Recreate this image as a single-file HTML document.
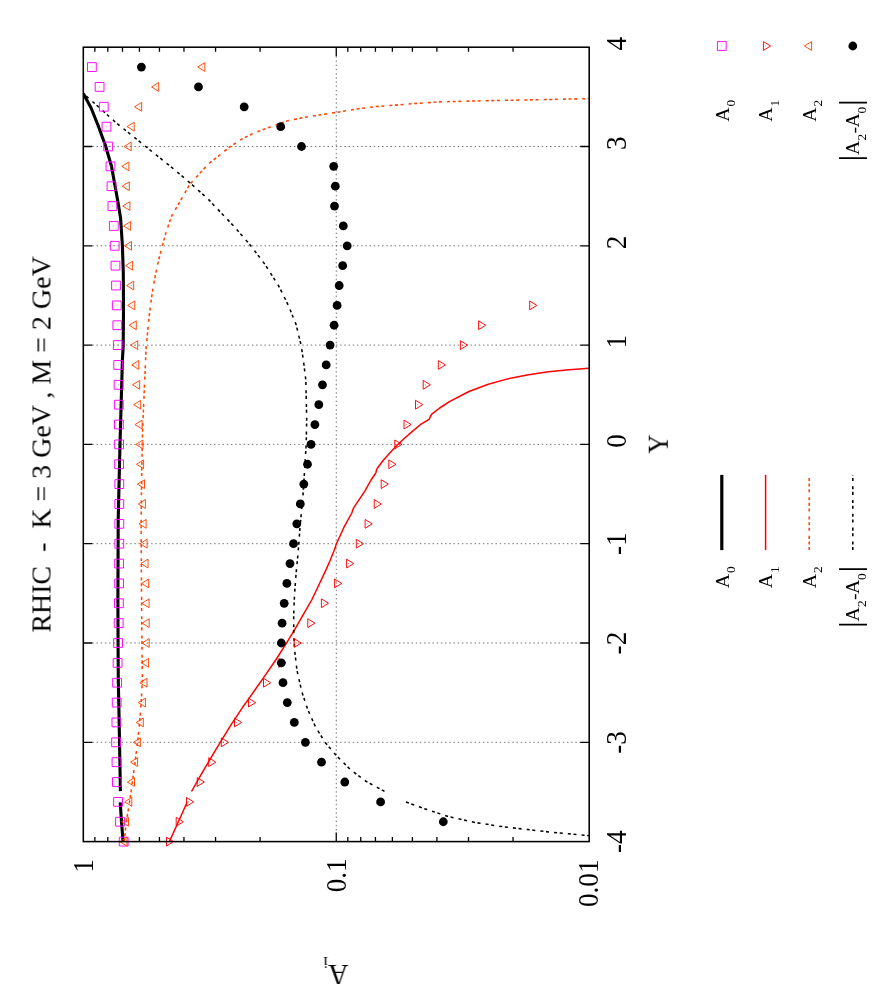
<!DOCTYPE html>
<html><head><meta charset="utf-8"><title>RHIC - K = 3 GeV , M = 2 GeV</title>
<style>html,body{margin:0;padding:0;background:#fff}svg{display:block}text{font-family:'Liberation Serif', serif;fill:#000}</style></head><body>
<svg width="875" height="1000" viewBox="0 0 875 1000">
<rect width="875" height="1000" fill="#fff"/>
<path d="M92.3 742.3 H580.2 M92.3 643 H580.2 M92.3 543.7 H580.2 M92.3 444.4 H580.2 M92.3 345.1 H580.2 M92.3 245.8 H580.2 M92.3 146.5 H580.2 M336.25 56.2 V832.6" stroke="#000" stroke-opacity="0.6" stroke-width="0.9" stroke-dasharray="1.5 2.7" fill="none"/>
<path d="M83.3 742.3 h9 M589.2 742.3 h-9 M83.3 643 h9 M589.2 643 h-9 M83.3 543.7 h9 M589.2 543.7 h-9 M83.3 444.4 h9 M589.2 444.4 h-9 M83.3 345.1 h9 M589.2 345.1 h-9 M83.3 245.8 h9 M589.2 245.8 h-9 M83.3 146.5 h9 M589.2 146.5 h-9 M336.25 47.2 v9 M336.25 841.6 v-9 M260.1 47.2 v4.5 M260.1 841.6 v-4.5 M215.56 47.2 v4.5 M215.56 841.6 v-4.5 M183.96 47.2 v4.5 M183.96 841.6 v-4.5 M159.45 47.2 v4.5 M159.45 841.6 v-4.5 M139.42 47.2 v4.5 M139.42 841.6 v-4.5 M122.48 47.2 v4.5 M122.48 841.6 v-4.5 M107.81 47.2 v4.5 M107.81 841.6 v-4.5 M94.87 47.2 v4.5 M94.87 841.6 v-4.5 M513.05 47.2 v4.5 M513.05 841.6 v-4.5 M468.51 47.2 v4.5 M468.51 841.6 v-4.5 M436.91 47.2 v4.5 M436.91 841.6 v-4.5 M412.4 47.2 v4.5 M412.4 841.6 v-4.5 M392.37 47.2 v4.5 M392.37 841.6 v-4.5 M375.43 47.2 v4.5 M375.43 841.6 v-4.5 M360.76 47.2 v4.5 M360.76 841.6 v-4.5 M347.82 47.2 v4.5 M347.82 841.6 v-4.5" stroke="#000" stroke-width="1.3" fill="none"/>
<clipPath id="pc"><rect x="83.3" y="47.2" width="505.9" height="794.4"/></clipPath>
<g fill="none" stroke-linejoin="round" clip-path="url(#pc)">
<path d="M123.1 841.6 L121.5 821.7 L120.2 802.4 M120.4 791.1 L119.8 757.7 L119.1 718.9 L118.3 680 L118.1 650 L117.9 600 L118.2 520 L120 444 L122.4 360 L123.2 346.3 L123.5 309.7 L123.3 273.1 L122.4 245.7 L120.6 218.3 L117.6 200 L115.1 186.3 L111.5 166.2 L105.6 146 L98.3 126 L91 107.7 L83.3 93.6" stroke="#000" stroke-width="3.1"/>
<path d="M169.4 841.6 L178.4 821.7 L187.2 802 M191.5 791.5 L201.2 774.4 L212.1 755.8 L220.4 742.1 L231.3 724.3 L242.3 707.8 L248.3 699.4 L256.3 688 L264.3 676.6 L275.7 660 L284.9 645.7 L294 630.9 L303.1 614.9 L311.7 600 L319.8 583 L326.2 569.4 L330 560.8 L334.4 549.8 L335.4 547 L336.3 544 L344 527.2 L351.8 513 L352.8 510 L353.8 507.6 L365 490.8 L371 480 L375.1 474 L376 472.3 L376.7 469.5 L377.3 468.2 L382.9 460.8 L389.3 453.5 L396.6 445.7 L403.9 438.8 L411.2 432.4 L420.3 424.7 L428.6 419.7 L429.6 418.6 L430.6 416 L431.8 414.2 L439.7 408 L449.4 401.6 L468.9 391.5 L488.3 384.3 L507.7 378.9 L527.1 375 L546.6 372.1 L566 370.1 L589 368.2" stroke="#ff0000" stroke-width="1.5"/>
<path d="M124.3 841.6 L126.2 821.8 L128.6 808.2 L131.5 788.8 L134.4 767.4 L137.3 744.1 L139.6 722.7 L141.2 701.4 L142.4 680 L141.8 629.7 L141.4 574.9 L141.1 520 L141.3 506.3 L141.8 469.7 L142.5 433.1 L144 396.6 L145.5 361.8 L146.2 346.3 L147.7 331.7 L149.5 313.4 L152.2 293.2 L155 276.8 L158.6 260.3 L162.3 245.7 L165.9 232.9 L171.4 216.5 L178.7 203.7 L181.4 199 L189.7 184.5 L208 164.3 L230 146.9 L241.7 139.1 L253.3 133.3 L268.9 127.4 L288.3 120.6 L307.7 116.7 L335.9 112.5 L356.3 109 L375.7 106.6 L390 105.5 L414 103.6 L438 101.9 L486 100.7 L534 99.8 L589 98.6" stroke="#ff4500" stroke-dasharray="3.05 2.55 3.05 2.55 3.05 5.05" stroke-width="1.55"/>
<path d="M406 802 L422.6 808.1 L448.9 816.7 L475.1 822.5 L501.4 826.5 L527.7 829.6 L554 832.5 L589 835.7 M384.5 791.4 L366 781.3 L350.5 769.7 L335.9 755.1 L325.2 742.5 L315.5 726.9 L307.7 709.4 L301.9 692 L297 670.5 L294.7 651 L293.7 633.5 L293.7 614.1 L294.5 594.7 L296.1 573.3 L298 553.9 L300.3 523.8 L302.9 496.6 L304.8 467.4 L306.2 444.1 L306.7 418.9 L305.8 380 L303.8 363.5 L301.3 346 L296.1 324.6 L288.3 305.2 L278.6 285.8 L265 264.4 L249.4 244 L232.3 224.6 L208 199 L189.7 182.6 L171.4 167.1 L153.1 152.5 L134.9 137.8 L116.6 123.2 L98.3 106.7 L83.3 93.6" stroke="#000" stroke-dasharray="3.05 2.6 3.05 5.1" stroke-width="1.55"/>
</g>
<path d="M119.3 837.2 h8.8 v8.8 h-8.8 z M115.6 817.34 h8.8 v8.8 h-8.8 z M113.7 797.48 h8.8 v8.8 h-8.8 z M112.5 777.62 h8.8 v8.8 h-8.8 z M112.1 757.76 h8.8 v8.8 h-8.8 z M111.7 737.9 h8.8 v8.8 h-8.8 z M112 718.04 h8.8 v8.8 h-8.8 z M112.3 698.18 h8.8 v8.8 h-8.8 z M112.7 678.32 h8.8 v8.8 h-8.8 z M113.2 658.46 h8.8 v8.8 h-8.8 z M113.7 638.6 h8.8 v8.8 h-8.8 z M114.3 618.74 h8.8 v8.8 h-8.8 z M114.5 598.88 h8.8 v8.8 h-8.8 z M114.7 579.02 h8.8 v8.8 h-8.8 z M114.7 559.16 h8.8 v8.8 h-8.8 z M114.9 539.3 h8.8 v8.8 h-8.8 z M114.9 519.44 h8.8 v8.8 h-8.8 z M114.9 499.58 h8.8 v8.8 h-8.8 z M114.9 479.72 h8.8 v8.8 h-8.8 z M114.7 459.86 h8.8 v8.8 h-8.8 z M114.7 440 h8.8 v8.8 h-8.8 z M114.5 420.14 h8.8 v8.8 h-8.8 z M114.4 400.28 h8.8 v8.8 h-8.8 z M114.2 380.42 h8.8 v8.8 h-8.8 z M113.8 360.56 h8.8 v8.8 h-8.8 z M113.4 340.7 h8.8 v8.8 h-8.8 z M112.9 320.84 h8.8 v8.8 h-8.8 z M112.4 300.98 h8.8 v8.8 h-8.8 z M111.6 281.12 h8.8 v8.8 h-8.8 z M111.1 261.26 h8.8 v8.8 h-8.8 z M110.3 241.4 h8.8 v8.8 h-8.8 z M109.4 221.54 h8.8 v8.8 h-8.8 z M108 201.68 h8.8 v8.8 h-8.8 z M107.1 181.82 h8.8 v8.8 h-8.8 z M106.1 161.96 h8.8 v8.8 h-8.8 z M103.8 142.1 h8.8 v8.8 h-8.8 z M102.1 122.24 h8.8 v8.8 h-8.8 z M99.4 102.38 h8.8 v8.8 h-8.8 z M95.2 82.52 h8.8 v8.8 h-8.8 z M87.5 62.66 h8.8 v8.8 h-8.8 z M717.4 41.6 h8.8 v8.8 h-8.8 z" fill="none" stroke="#ff00ff" stroke-width="0.95"/>
<path d="M123.7 841.6 h0.01 M120 821.74 h0.01 M118.1 801.88 h0.01 M116.9 782.02 h0.01 M116.5 762.16 h0.01 M116.1 742.3 h0.01 M116.4 722.44 h0.01 M116.7 702.58 h0.01 M117.1 682.72 h0.01 M117.6 662.86 h0.01 M118.1 643 h0.01 M118.7 623.14 h0.01 M118.9 603.28 h0.01 M119.1 583.42 h0.01 M119.1 563.56 h0.01 M119.3 543.7 h0.01 M119.3 523.84 h0.01 M119.3 503.98 h0.01 M119.3 484.12 h0.01 M119.1 464.26 h0.01 M119.1 444.4 h0.01 M118.9 424.54 h0.01 M118.8 404.68 h0.01 M118.6 384.82 h0.01 M118.2 364.96 h0.01 M117.8 345.1 h0.01 M117.3 325.24 h0.01 M116.8 305.38 h0.01 M116 285.52 h0.01 M115.5 265.66 h0.01 M114.7 245.8 h0.01 M113.8 225.94 h0.01 M112.4 206.08 h0.01 M111.5 186.22 h0.01 M110.5 166.36 h0.01 M108.2 146.5 h0.01 M106.5 126.64 h0.01 M103.8 106.78 h0.01 M99.6 86.92 h0.01 M91.9 67.06 h0.01 M721.8 46 h0.01" fill="none" stroke="#ff00ff" stroke-width="0.9" stroke-linecap="round" opacity="0.7"/>
<path d="M173.63 841.6 L166.5 837.2 L166.5 846 z M183.33 821.74 L176.2 817.34 L176.2 826.14 z M193.63 801.88 L186.5 797.48 L186.5 806.28 z M204.33 782.02 L197.2 777.62 L197.2 786.42 z M215.83 762.16 L208.7 757.76 L208.7 766.56 z M228.43 742.3 L221.3 737.9 L221.3 746.7 z M241.63 722.44 L234.5 718.04 L234.5 726.84 z M255.63 702.58 L248.5 698.18 L248.5 706.98 z M270.63 682.72 L263.5 678.32 L263.5 687.12 z M285.93 662.86 L278.8 658.46 L278.8 667.26 z M301.33 643 L294.2 638.6 L294.2 647.4 z M314.93 623.14 L307.8 618.74 L307.8 627.54 z M328.53 603.28 L321.4 598.88 L321.4 607.68 z M341.73 583.42 L334.6 579.02 L334.6 587.82 z M353.73 563.56 L346.6 559.16 L346.6 567.96 z M363.43 543.7 L356.3 539.3 L356.3 548.1 z M372.23 523.84 L365.1 519.44 L365.1 528.24 z M381.33 503.98 L374.2 499.58 L374.2 508.38 z M388.33 484.12 L381.2 479.72 L381.2 488.52 z M395.93 464.26 L388.8 459.86 L388.8 468.66 z M401.93 444.4 L394.8 440 L394.8 448.8 z M411.13 424.54 L404 420.14 L404 428.94 z M422.63 404.68 L415.5 400.28 L415.5 409.08 z M430.33 384.82 L423.2 380.42 L423.2 389.22 z M445.43 364.96 L438.3 360.56 L438.3 369.36 z M467.53 345.1 L460.4 340.7 L460.4 349.5 z M485.73 325.24 L478.6 320.84 L478.6 329.64 z M536.83 305.38 L529.7 300.98 L529.7 309.78 z M770.53 46 L763.4 41.6 L763.4 50.4 z" fill="none" stroke="#ff0000" stroke-width="0.95" stroke-linejoin="miter"/>
<path d="M168.7 841.6 h0.01 M178.4 821.74 h0.01 M188.7 801.88 h0.01 M199.4 782.02 h0.01 M210.9 762.16 h0.01 M223.5 742.3 h0.01 M236.7 722.44 h0.01 M250.7 702.58 h0.01 M265.7 682.72 h0.01 M281 662.86 h0.01 M296.4 643 h0.01 M310 623.14 h0.01 M323.6 603.28 h0.01 M336.8 583.42 h0.01 M348.8 563.56 h0.01 M358.5 543.7 h0.01 M367.3 523.84 h0.01 M376.4 503.98 h0.01 M383.4 484.12 h0.01 M391 464.26 h0.01 M397 444.4 h0.01 M406.2 424.54 h0.01 M417.7 404.68 h0.01 M425.4 384.82 h0.01 M440.5 364.96 h0.01 M462.6 345.1 h0.01 M480.8 325.24 h0.01 M531.9 305.38 h0.01 M765.6 46 h0.01" fill="none" stroke="#ff0000" stroke-width="0.9" stroke-linecap="round" opacity="0.7"/>
<path d="M119.87 841.6 L127 837.2 L127 846 z M121.37 821.74 L128.5 817.34 L128.5 826.14 z M124.67 801.88 L131.8 797.48 L131.8 806.28 z M127.37 782.02 L134.5 777.62 L134.5 786.42 z M130.47 762.16 L137.6 757.76 L137.6 766.56 z M133.27 742.3 L140.4 737.9 L140.4 746.7 z M136.17 722.44 L143.3 718.04 L143.3 726.84 z M138.27 702.58 L145.4 698.18 L145.4 706.98 z M139.87 682.72 L147 678.32 L147 687.12 z M141.47 662.86 L148.6 658.46 L148.6 667.26 z M142.07 643 L149.2 638.6 L149.2 647.4 z M142.07 623.14 L149.2 618.74 L149.2 627.54 z M141.97 603.28 L149.1 598.88 L149.1 607.68 z M141.57 583.42 L148.7 579.02 L148.7 587.82 z M140.87 563.56 L148 559.16 L148 567.96 z M139.97 543.7 L147.1 539.3 L147.1 548.1 z M138.97 523.84 L146.1 519.44 L146.1 528.24 z M138.27 503.98 L145.4 499.58 L145.4 508.38 z M137.37 484.12 L144.5 479.72 L144.5 488.52 z M136.47 464.26 L143.6 459.86 L143.6 468.66 z M135.87 444.4 L143 440 L143 448.8 z M134.97 424.54 L142.1 420.14 L142.1 428.94 z M133.57 404.68 L140.7 400.28 L140.7 409.08 z M132.57 384.82 L139.7 380.42 L139.7 389.22 z M131.67 364.96 L138.8 360.56 L138.8 369.36 z M130.57 345.1 L137.7 340.7 L137.7 349.5 z M129.17 325.24 L136.3 320.84 L136.3 329.64 z M127.67 305.38 L134.8 300.98 L134.8 309.78 z M126.57 285.52 L133.7 281.12 L133.7 289.92 z M125.47 265.66 L132.6 261.26 L132.6 270.06 z M124.37 245.8 L131.5 241.4 L131.5 250.2 z M123.47 225.94 L130.6 221.54 L130.6 230.34 z M122.77 206.08 L129.9 201.68 L129.9 210.48 z M122.17 186.22 L129.3 181.82 L129.3 190.62 z M121.77 166.36 L128.9 161.96 L128.9 170.76 z M124.07 146.5 L131.2 142.1 L131.2 150.9 z M127.07 126.64 L134.2 122.24 L134.2 131.04 z M134.57 106.78 L141.7 102.38 L141.7 111.18 z M151.57 86.92 L158.7 82.52 L158.7 91.32 z M197.67 67.06 L204.8 62.66 L204.8 71.46 z M804.47 46 L811.6 41.6 L811.6 50.4 z" fill="none" stroke="#ff4500" stroke-width="0.95" stroke-linejoin="miter"/>
<path d="M124.8 841.6 h0.01 M126.3 821.74 h0.01 M129.6 801.88 h0.01 M132.3 782.02 h0.01 M135.4 762.16 h0.01 M138.2 742.3 h0.01 M141.1 722.44 h0.01 M143.2 702.58 h0.01 M144.8 682.72 h0.01 M146.4 662.86 h0.01 M147 643 h0.01 M147 623.14 h0.01 M146.9 603.28 h0.01 M146.5 583.42 h0.01 M145.8 563.56 h0.01 M144.9 543.7 h0.01 M143.9 523.84 h0.01 M143.2 503.98 h0.01 M142.3 484.12 h0.01 M141.4 464.26 h0.01 M140.8 444.4 h0.01 M139.9 424.54 h0.01 M138.5 404.68 h0.01 M137.5 384.82 h0.01 M136.6 364.96 h0.01 M135.5 345.1 h0.01 M134.1 325.24 h0.01 M132.6 305.38 h0.01 M131.5 285.52 h0.01 M130.4 265.66 h0.01 M129.3 245.8 h0.01 M128.4 225.94 h0.01 M127.7 206.08 h0.01 M127.1 186.22 h0.01 M126.7 166.36 h0.01 M129 146.5 h0.01 M132 126.64 h0.01 M139.5 106.78 h0.01 M156.5 86.92 h0.01 M202.6 67.06 h0.01 M809.4 46 h0.01" fill="none" stroke="#ff4500" stroke-width="0.9" stroke-linecap="round" opacity="0.7"/>
<circle cx="443.3" cy="821.74" r="4.4"/>
<circle cx="380.6" cy="801.88" r="4.4"/>
<circle cx="344.8" cy="782.02" r="4.4"/>
<circle cx="321.5" cy="762.16" r="4.4"/>
<circle cx="305.4" cy="742.3" r="4.4"/>
<circle cx="294.3" cy="722.44" r="4.4"/>
<circle cx="287.3" cy="702.58" r="4.4"/>
<circle cx="283" cy="682.72" r="4.4"/>
<circle cx="281.3" cy="662.86" r="4.4"/>
<circle cx="281.3" cy="643" r="4.4"/>
<circle cx="282.1" cy="623.14" r="4.4"/>
<circle cx="284.2" cy="603.28" r="4.4"/>
<circle cx="286.9" cy="583.42" r="4.4"/>
<circle cx="290" cy="563.56" r="4.4"/>
<circle cx="293.5" cy="543.7" r="4.4"/>
<circle cx="296.8" cy="523.84" r="4.4"/>
<circle cx="300.3" cy="503.98" r="4.4"/>
<circle cx="303.8" cy="484.12" r="4.4"/>
<circle cx="307.5" cy="464.26" r="4.4"/>
<circle cx="311" cy="444.4" r="4.4"/>
<circle cx="314.9" cy="424.54" r="4.4"/>
<circle cx="318.8" cy="404.68" r="4.4"/>
<circle cx="322.5" cy="384.82" r="4.4"/>
<circle cx="326.2" cy="364.96" r="4.4"/>
<circle cx="330.1" cy="345.1" r="4.4"/>
<circle cx="334.1" cy="325.24" r="4.4"/>
<circle cx="337.1" cy="305.38" r="4.4"/>
<circle cx="339.2" cy="285.52" r="4.4"/>
<circle cx="342.7" cy="265.66" r="4.4"/>
<circle cx="347.2" cy="245.8" r="4.4"/>
<circle cx="343.3" cy="225.94" r="4.4"/>
<circle cx="334.5" cy="206.08" r="4.4"/>
<circle cx="335.3" cy="186.22" r="4.4"/>
<circle cx="333.7" cy="166.36" r="4.4"/>
<circle cx="301.5" cy="146.5" r="4.4"/>
<circle cx="280.7" cy="126.64" r="4.4"/>
<circle cx="244.2" cy="106.78" r="4.4"/>
<circle cx="198.5" cy="86.92" r="4.4"/>
<circle cx="141.4" cy="67.06" r="4.4"/>
<circle cx="852.8" cy="46" r="4.4"/>
<rect x="83.3" y="47.2" width="505.9" height="794.4" fill="none" stroke="#000" stroke-width="1.55"/>
<path d="M721.8 474.9 V550.1" stroke="#000" stroke-width="3.2" fill="none"/>
<path d="M765.6 474.9 V550.1" stroke="#ff0000" stroke-width="1.5" fill="none"/>
<path d="M809.2 550.1 V477.9" stroke="#ff4500" stroke-dasharray="3.05 2.55 3.05 2.55 3.05 5.05" stroke-width="1.55" fill="none"/>
<path d="M852.8 550.1 V474.9" stroke="#000" stroke-dasharray="3.05 2.6 3.05 5.1" stroke-width="1.55" fill="none"/>
<g opacity="0.999">
<text transform="translate(626 841.7) rotate(-90) scale(0.97 1.05)" font-size="28" text-anchor="middle"><tspan dy="0.7">-</tspan><tspan dy="-0.7">4</tspan></text>
<text transform="translate(626 742.4) rotate(-90) scale(0.97 1.05)" font-size="28" text-anchor="middle"><tspan dy="0.7">-</tspan><tspan dy="-0.7">3</tspan></text>
<text transform="translate(626 643.1) rotate(-90) scale(0.97 1.05)" font-size="28" text-anchor="middle"><tspan dy="0.7">-</tspan><tspan dy="-0.7">2</tspan></text>
<text transform="translate(626 543.8) rotate(-90) scale(0.97 1.05)" font-size="28" text-anchor="middle"><tspan dy="0.7">-</tspan><tspan dy="-0.7">1</tspan></text>
<text transform="translate(626 441) rotate(-90) scale(0.97 1.05)" font-size="28" text-anchor="middle">0</text>
<text transform="translate(626 341.7) rotate(-90) scale(0.97 1.05)" font-size="28" text-anchor="middle">1</text>
<text transform="translate(626 242.4) rotate(-90) scale(0.97 1.05)" font-size="28" text-anchor="middle">2</text>
<text transform="translate(626 143.1) rotate(-90) scale(0.97 1.05)" font-size="28" text-anchor="middle">3</text>
<text transform="translate(626 43.8) rotate(-90) scale(0.97 1.05)" font-size="28" text-anchor="middle">4</text>
<text transform="translate(92.6 859.2) rotate(-90) scale(0.97 1.05)" font-size="28" text-anchor="end">1</text>
<text transform="translate(345.9 858.4) rotate(-90) scale(0.97 1.05)" font-size="28" text-anchor="end">0.1</text>
<text transform="translate(598.2 859.5) rotate(-90) scale(0.97 1.05)" font-size="28" text-anchor="end">0.01</text>
<text transform="translate(667.8 444) rotate(-90) scale(0.95 1.04)" font-size="28" text-anchor="middle">Y</text>
<text transform="translate(50.5 444.5) rotate(-90) scale(0.998 1.0)" font-size="28" text-anchor="middle" xml:space="preserve">RHIC&#160;&#160;-&#160;&#160;K = 3 GeV , M = 2 GeV</text>
<text transform="translate(348.3 965.0) rotate(180.03) scale(1 1.04)" font-size="28">A<tspan font-size="17" dy="8">i</tspan></text>
<text transform="translate(728.7 121.8) rotate(-90)" font-size="19.8" text-anchor="start">A</text>
<text transform="translate(735.3 106.6) rotate(-90)" font-size="13.4" text-anchor="start">0</text>
<text transform="translate(772.3 121.8) rotate(-90)" font-size="19.8" text-anchor="start">A</text>
<text transform="translate(778.9 106.6) rotate(-90)" font-size="13.4" text-anchor="start">1</text>
<text transform="translate(815.5 121.8) rotate(-90)" font-size="19.8" text-anchor="start">A</text>
<text transform="translate(822.1 106.6) rotate(-90)" font-size="13.4" text-anchor="start">2</text>
<text transform="translate(859.3 154.9) rotate(-90)" font-size="19.8" text-anchor="start">A</text>
<text transform="translate(865.9 140.6) rotate(-90)" font-size="13.4" text-anchor="start">2</text>
<text transform="translate(860.3 133.4) rotate(-90)" font-size="19.8" text-anchor="start">-</text>
<text transform="translate(859.3 127.4) rotate(-90)" font-size="19.8" text-anchor="start">A</text>
<text transform="translate(865.9 113.4) rotate(-90)" font-size="13.4" text-anchor="start">0</text>
<path d="M839 102.6 H867 M839 158.1 H867" stroke="#000" stroke-width="1.7" fill="none"/>
<text transform="translate(728.7 588.3) rotate(-90)" font-size="19.8" text-anchor="start">A</text>
<text transform="translate(735.3 573.1) rotate(-90)" font-size="13.4" text-anchor="start">0</text>
<text transform="translate(772.3 588.3) rotate(-90)" font-size="19.8" text-anchor="start">A</text>
<text transform="translate(778.9 573.1) rotate(-90)" font-size="13.4" text-anchor="start">1</text>
<text transform="translate(815.5 588.3) rotate(-90)" font-size="19.8" text-anchor="start">A</text>
<text transform="translate(822.1 573.1) rotate(-90)" font-size="13.4" text-anchor="start">2</text>
<text transform="translate(859.3 621.4) rotate(-90)" font-size="19.8" text-anchor="start">A</text>
<text transform="translate(865.9 607.1) rotate(-90)" font-size="13.4" text-anchor="start">2</text>
<text transform="translate(860.3 599.9) rotate(-90)" font-size="19.8" text-anchor="start">-</text>
<text transform="translate(859.3 593.9) rotate(-90)" font-size="19.8" text-anchor="start">A</text>
<text transform="translate(865.9 579.9) rotate(-90)" font-size="13.4" text-anchor="start">0</text>
<path d="M839 569.1 H867 M839 624.6 H867" stroke="#000" stroke-width="1.7" fill="none"/>
</g>
</svg></body></html>
